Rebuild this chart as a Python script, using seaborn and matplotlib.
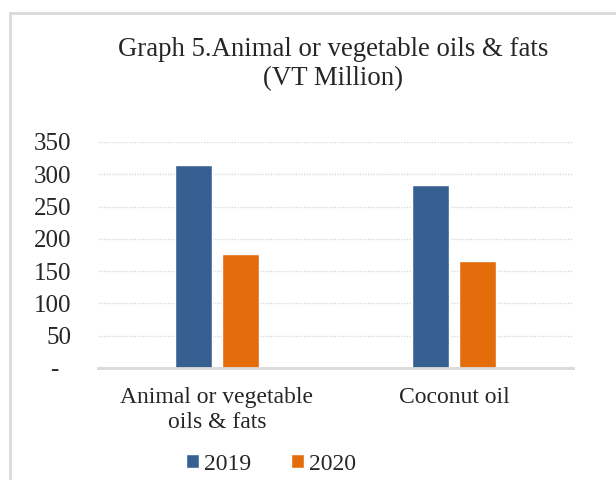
import matplotlib
matplotlib.use("Agg")
import matplotlib.pyplot as plt
import seaborn as sns
import pandas as pd
from matplotlib.patches import Rectangle, Patch

categories = ["Animal or vegetable\noils & fats", "Coconut oil"]
years = ["2019", "2020"]
values_2019 = [314, 284]
values_2020 = [177, 166]
yticks = [0, 50, 100, 150, 200, 250, 300, 350]
ytick_labels = ["-  ", "50", "100", "150", "200", "250", "300", "350"]

df = pd.DataFrame({
    "category": categories * 2,
    "year": [years[0]] * 2 + [years[1]] * 2,
    "value": values_2019 + values_2020,
})

sns.set_theme(style="white")
plt.rcParams["font.family"] = ["Liberation Serif", "DejaVu Serif"]

W, H = 616, 480
fig = plt.figure(figsize=(6.16, 4.8), dpi=100)
ax = fig.add_axes([98/W, 1 - 368/H, (573-98)/W, (368-142)/H])

palette = {"2019": "#376092", "2020": "#E46C0A"}
sns.barplot(data=df, x="category", y="value", hue="year", palette=palette,
            width=0.396, gap=0.21, ax=ax, legend=False, saturation=1)

ax.set_ylim(0, 350)
ax.set_xlim(-0.5, 1.5)
ax.set_yticks(yticks)
ax.set_yticklabels(ytick_labels, fontsize=18)
ax.tick_params(axis="x", labelsize=17, length=0, pad=14)
ax.tick_params(axis="y", length=0, pad=19)
ax.set_xlabel("")
ax.set_ylabel("")
for s in ["top", "right", "left"]:
    ax.spines[s].set_visible(False)
ax.spines["bottom"].set_color("#d9d9d9")
ax.spines["bottom"].set_linewidth(2)
ax.yaxis.grid(True, color="#d9d9d9", linestyle=(0, (1, 1)), linewidth=1)
ax.set_axisbelow(True)

fig.text(333/W, 1 - 64/H, "Graph 5.Animal or vegetable oils & fats\n(VT Million)",
         ha="center", va="center", fontsize=19.3, linespacing=1.2)

handles = [Patch(facecolor=palette[y], label=y) for y in years]
fig.legend(handles=handles, loc="center", bbox_to_anchor=(271/W, 1 - 464/H),
           ncol=2, frameon=False, fontsize=17, handlelength=0.55, handleheight=0.55,
           handletextpad=0.2, columnspacing=1.7, borderpad=0, borderaxespad=0)

fig.patches.append(Rectangle((10/W, -0.1), 1.2, 1 - 12.5/H + 0.1,
                             transform=fig.transFigure, fill=False,
                             edgecolor="#d9d9d9", linewidth=2))

fig.savefig("out.png", dpi=100)
